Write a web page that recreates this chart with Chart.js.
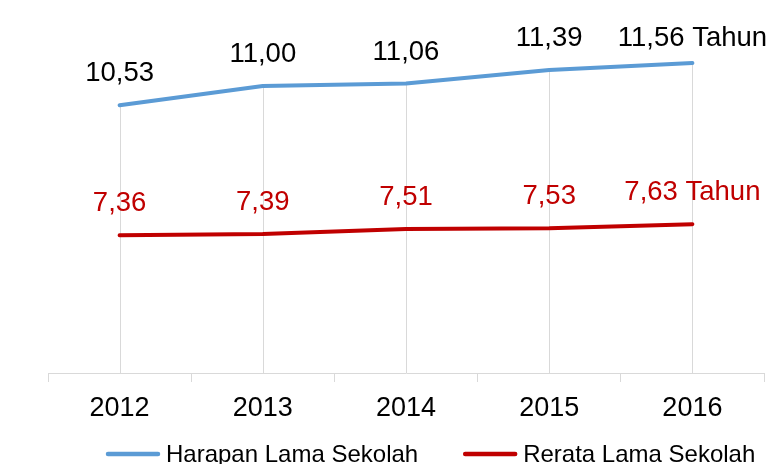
<!DOCTYPE html>
<html>
<head>
<meta charset="utf-8">
<script src="https://cdn.jsdelivr.net/npm/chart.js@4/dist/chart.umd.min.js"></script>
<style>
html,body{margin:0;padding:0;background:#fff;overflow:hidden;}
#wrap{position:relative;width:777px;height:464px;}
</style>
</head>
<body>
<div id="wrap"><canvas id="c"></canvas></div>
<script>
const categories = ['2012', '2013', '2014', '2015', '2016'];
const harapanLamaSekolah = [10.53, 11.00, 11.06, 11.39, 11.56];
const rerataLamaSekolah = [7.36, 7.39, 7.51, 7.53, 7.63];
const seriesNames = ['Harapan Lama Sekolah', 'Rerata Lama Sekolah'];
const unitSuffix = ' Tahun';

const FONT = "'Liberation Sans', Arial, sans-serif";
const BLUE = '#5B9BD5';
const RED = '#C00000';
const GRID = '#d9d9d9';
const labelColors = ['#000000', RED];
const labelLift = [[24, 24, 24, 24, 17], [24, 24, 24, 24, 24]];

const dropLines = {
  id: 'dropLines',
  beforeDatasetsDraw(chart) {
    const ctx = chart.ctx;
    const bottom = chart.chartArea.bottom;
    const n = chart.data.labels.length;
    ctx.save();
    ctx.strokeStyle = GRID;
    ctx.lineWidth = 1;
    for (let i = 0; i < n; i++) {
      let top = Infinity, x = null;
      chart.data.datasets.forEach((ds, di) => {
        const p = chart.getDatasetMeta(di).data[i];
        if (p) { top = Math.min(top, p.y); x = p.x; }
      });
      if (x === null) continue;
      const xx = Math.round(x) + 0.5;
      ctx.beginPath();
      ctx.moveTo(xx, top);
      ctx.lineTo(xx, bottom);
      ctx.stroke();
    }
    ctx.restore();
  }
};

const valueLabels = {
  id: 'valueLabels',
  afterDatasetsDraw(chart) {
    const ctx = chart.ctx;
    ctx.save();
    ctx.font = '27.5px ' + FONT;
    ctx.textAlign = 'center';
    ctx.textBaseline = 'alphabetic';
    chart.data.datasets.forEach((ds, di) => {
      const meta = chart.getDatasetMeta(di);
      ctx.fillStyle = labelColors[di];
      meta.data.forEach((p, i) => {
        let t = ds.data[i].toFixed(2).replace('.', ',');
        if (i === ds.data.length - 1) t += unitSuffix;
        ctx.fillText(t, p.x, p.y - labelLift[di][i]);
      });
    });
    ctx.restore();
  }
};

const customLegend = {
  id: 'customLegend',
  afterDraw(chart) {
    const ctx = chart.ctx;
    ctx.save();
    ctx.font = '24px ' + FONT;
    ctx.textBaseline = 'alphabetic';
    ctx.textAlign = 'left';
    let x = 106;
    const yLine = 454;
    const yText = 462;
    chart.data.datasets.forEach((ds, di) => {
      ctx.strokeStyle = ds.borderColor;
      ctx.lineWidth = 4.5;
      ctx.lineCap = 'round';
      ctx.beginPath();
      ctx.moveTo(x + 2, yLine);
      ctx.lineTo(x + 52, yLine);
      ctx.stroke();
      ctx.fillStyle = '#000';
      ctx.fillText(ds.label, x + 60, yText);
      x = x + 60 + ctx.measureText(ds.label).width + 45;
    });
    ctx.restore();
  }
};

new Chart(document.getElementById('c'), {
  type: 'line',
  data: {
    labels: categories,
    datasets: [
      { label: seriesNames[0], data: harapanLamaSekolah, borderColor: BLUE, backgroundColor: BLUE,
        borderWidth: 4, pointRadius: 0, tension: 0, borderCapStyle: 'round', borderJoinStyle: 'round', clip: false },
      { label: seriesNames[1], data: rerataLamaSekolah, borderColor: RED, backgroundColor: RED,
        borderWidth: 4, pointRadius: 0, tension: 0, borderCapStyle: 'round', borderJoinStyle: 'round', clip: false }
    ]
  },
  options: {
    responsive: true,
    maintainAspectRatio: false,
    animation: false,
    events: [],
    layout: { padding: { top: 45, left: 48, right: 13, bottom: 0 } },
    plugins: { legend: { display: false }, tooltip: { enabled: false } },
    scales: {
      x: {
        offset: true,
        grid: { offset: true, color: 'rgba(0,0,0,0)', tickColor: GRID, tickLength: 9, tickWidth: 1, drawOnChartArea: false },
        border: { display: true, color: GRID, width: 1 },
        ticks: { color: '#000', font: { family: FONT, size: 27 }, padding: 10, maxRotation: 0 },
        afterFit(scale) { scale.height = 91; }
      },
      y: {
        display: false,
        min: 4,
        max: 12
      }
    }
  },
  plugins: [dropLines, valueLabels, customLegend]
});
</script>
</body>
</html>
